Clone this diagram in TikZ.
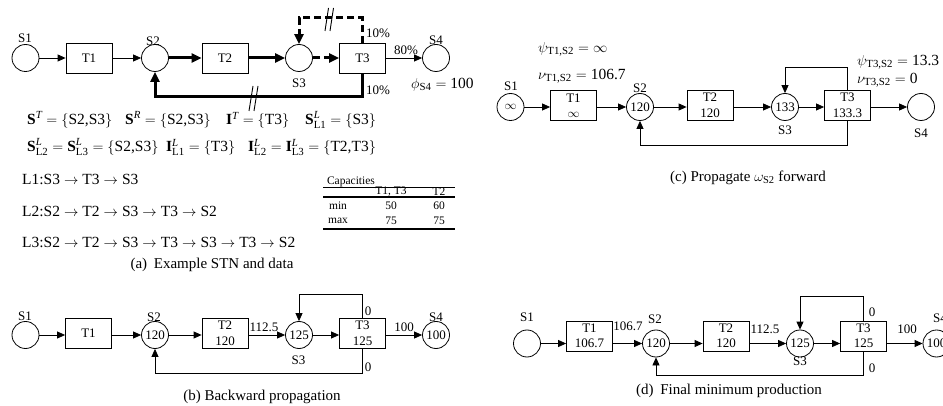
\documentclass[tikz,border=0pt]{standalone}
\usepackage{amsmath}
\usepackage{fontspec}
\setmainfont{Liberation Serif}
\usetikzlibrary{arrows.meta,calc}
\newcommand{\fsz}[1]{\fontsize{#1}{#1}\selectfont}
\newcommand{\bS}{\textbf{S}}
\newcommand{\bI}{\textbf{I}}
\newcommand{\itx}[1]{\text{\itshape #1}}
\newcommand{\rar}{$\;\rightarrow\;$}
\begin{document}
\begin{tikzpicture}[x=1pt,y=-1pt,
  st/.style={circle,draw,line width=0.8pt,minimum size=27pt,inner sep=0pt,font=\fsz{13}},
  tk/.style={rectangle,draw,line width=0.8pt,minimum width=46pt,minimum height=30pt,inner sep=0pt,align=center,font=\fontsize{13}{15.5}\selectfont},
  lb/.style={inner sep=0pt,font=\fsz{13}},
  mth/.style={inner sep=0pt,anchor=base west,font=\fsz{15.5}},
  tb/.style={inner sep=0pt,font=\fsz{11.5}},
  capt/.style={inner sep=0pt,font=\fsz{15}},
  arr/.style={line width=0.8pt,-{Triangle[length=8pt,width=7pt]}},
  tarr/.style={line width=3pt,-{Triangle[length=10pt,width=9pt]}},
  dline/.style={dash pattern=on 7pt off 4pt},
  slashline/.style={line width=0.9pt},
  tabrule/.style={line width=1.1pt}]
\useasboundingbox (0,0) rectangle (943,406);

% ================= (a) =================
\node[st] (aS1) at (25.5,58) {};
\node[lb] (aS1l) at (25,38.5) {S1};
\node[tk] (aT1) at (89,58) {T1};
\node[st] (aS2) at (155,58) {};
\node[lb] (aS2l) at (153,41) {S2};
\node[tk] (aT2) at (225,58) {T2};
\node[st] (aS3) at (299,58) {};
\node[lb] (aS3l) at (299,83) {S3};
\node[tk] (aT3) at (362.5,58) {T3};
\node[st] (aS4) at (436,58) {};
\node[lb] (aS4l) at (436,40) {S4};
\coordinate (aTop) at (0,18);
\coordinate (aBot) at (0,97);

\draw[arr] (aS1) -- (aT1);
\draw[arr] (aT1) -- (aS2);
\draw[tarr] (aS2) -- (aT2);
\draw[tarr] (aT2) -- (aS3);
\draw[tarr,dline] (aS3) -- (aT3);
\draw[arr] (aT3) -- (aS4);
\draw[tarr,dline] (aT3.north) -- (aT3.north |- aTop) -| (aS3.north);
\draw[tarr] (aT3.south) -- (aT3.south |- aBot) -| (aS2.south);
\draw[slashline] (325,31) -- (328.5,8);
\draw[slashline] (330,31) -- (333.5,8);
\draw[slashline] (249,111) -- (253,86);
\draw[slashline] (254,111) -- (258,86);

\node[lb] (a80) at (406,50) {80\%};
\node[lb] (a10t) at (378,33) {10\%};
\node[lb] (a10b) at (378,90) {10\%};
\node[mth,anchor=west] (aphi) at (411,85) {$\phi_{\text{S4}} = \text{100}$};

\node[mth] (m1) at (27,125) {$\bS^{\itx{T}} = \{\text{S2,S3}\}$};
\node[mth] (m2) at (125,125) {$\bS^{\itx{R}} = \{\text{S2,S3}\}$};
\node[mth] (m3) at (226,125) {$\bI^{\itx{T}} = \{\text{T3}\}$};
\node[mth] (m4) at (305,125) {$\bS^{\itx{L}}_{\text{L1}} = \{\text{S3}\}$};
\node[mth] (m5) at (27,152) {$\bS^{\itx{L}}_{\text{L2}} = \bS^{\itx{L}}_{\text{L3}} = \{\text{S2,S3}\}$};
\node[mth] (m6) at (166,152) {$\bI^{\itx{L}}_{\text{L1}} = \{\text{T3}\}$};
\node[mth] (m7) at (248,152) {$\bI^{\itx{L}}_{\text{L2}} = \bI^{\itx{L}}_{\text{L3}} = \{\text{T2,T3}\}$};
\node[mth] (l1) at (22,185) {L1:S3\rar T3\rar S3};
\node[mth] (l2) at (22,217) {L2:S2\rar T2\rar S3\rar T3\rar S2};
\node[mth] (l3) at (22,248) {L3:S2\rar T2\rar S3\rar T3\rar S3\rar T3\rar S2};

% table
\node[tb] (tcap) at (351,182) {Capacities};
\draw[tabrule] (323,187.5) -- (455,187.5);
\node[tb] (th1) at (391,192) {T1, T3};
\node[tb] (th2) at (439,192) {T2};
\draw[tabrule] (323,197) -- (455,197);
\node[tb] (tmin) at (338,206) {min};
\node[tb] (t50) at (391,206) {50};
\node[tb] (t60) at (439,206) {60};
\node[tb] (tmax) at (338,221) {max};
\node[tb] (t75a) at (391,221) {75};
\node[tb] (t75b) at (439,221) {75};
\draw[tabrule] (323,229) -- (455,229);

\node[capt] (capa) at (212,265) {(a)\hspace{0.45em}Example STN and data};

% ================= (b) =================
\node[st] (bS1) at (25.5,335) {};
\node[lb] (bS1l) at (25,316) {S1};
\node[tk] (bT1) at (88.5,333.5) {T1};
\node[st] (bS2) at (155,335) {120};
\node[lb] (bS2l) at (154,317) {S2};
\node[tk] (bT2) at (225,333.5) {T2\\120};
\node[st] (bS3) at (299,335) {125};
\node[lb] (bS3l) at (298.5,360) {S3};
\node[tk] (bT3) at (362.5,333.5) {T3\\125};
\node[st] (bS4) at (436,335) {100};
\node[lb] (bS4l) at (436,317) {S4};
\coordinate (bTop) at (0,294);
\coordinate (bBot) at (0,373);
\draw[arr] (bS1) -- (bT1.west |- bS1);
\draw[arr] (bT1.east |- bS2) -- (bS2);
\draw[arr] (bS2) -- (bT2.west |- bS2);
\draw[arr] (bT2.east |- bS3) -- (bS3);
\draw[arr] (bS3) -- (bT3.west |- bS3);
\draw[arr] (bT3.east |- bS4) -- (bS4);
\draw[arr] (bT3.north) -- (bT3.north |- bTop) -| (bS3.north);
\draw[arr] (bT3.south) -- (bT3.south |- bBot) -| (bS2.south);
\node[lb] (b112) at (264,327) {112.5};
\node[lb] (b100) at (404,327) {100};
\node[lb] (b0t) at (368,311) {0};
\node[lb] (b0b) at (368,367) {0};
\node[capt] (capb) at (262,397) {(b) Backward propagation};

% ================= (c) =================
\node[st] (cS1) at (510.5,107) {$\infty$};
\node[lb] (cS1l) at (511,86.5) {S1};
\node[tk] (cT1) at (573.5,105.5) {T1\\$\infty$};
\node[st] (cS2) at (640,107) {120};
\node[lb] (cS2l) at (640,88) {S2};
\node[tk] (cT2) at (710,105.5) {T2\\120};
\node[st] (cS3) at (785,107) {133};
\node[lb] (cS3l) at (785,130) {S3};
\node[tk] (cT3) at (847.5,105.5) {T3\\133.3};
\node[st] (cS4) at (921,107) {};
\node[lb] (cS4l) at (921,133) {S4};
\coordinate (cTop) at (0,67);
\coordinate (cBot) at (0,145);
\draw[arr] (cS1) -- (cT1.west |- cS1);
\draw[arr] (cT1.east |- cS2) -- (cS2);
\draw[arr] (cS2) -- (cT2.west |- cS2);
\draw[arr] (cT2.east |- cS3) -- (cS3);
\draw[arr] (cS3) -- (cT3.west |- cS3);
\draw[arr] (cT3.east |- cS4) -- (cS4);
\draw[arr] (cT3.north) -- (cT3.north |- cTop) -| (cS3.north);
\draw[arr] (cT3.south) -- (cT3.south |- cBot) -| (cS2.south);
\node[mth,anchor=west] (cpsi1) at (538,49) {$\psi_{\text{T1,S2}} = \infty$};
\node[mth,anchor=west] (cnu1) at (538,76) {$\nu_{\text{T1,S2}} = \text{106.7}$};
\node[mth,anchor=west] (cpsi3) at (857,62) {$\psi_{\text{T3,S2}} = \text{13.3}$};
\node[mth,anchor=west] (cnu3) at (857,80) {$\nu_{\text{T3,S2}} = \text{0}$};
\node[capt] (capc) at (748,178) {(c) Propagate $\omega_{\text{S2}}$ forward};

% ================= (d) =================
\node[st] (dS1) at (527,343.5) {};
\node[lb] (dS1l) at (527,317) {S1};
\node[tk] (dT1) at (589.5,336) {T1\\106.7};
\node[st] (dS2) at (656,343.5) {120};
\node[lb] (dS2l) at (655,319) {S2};
\node[tk] (dT2) at (726,336) {T2\\120};
\node[st] (dS3) at (800,343.5) {125};
\node[lb] (dS3l) at (800,361) {S3};
\node[tk] (dT3) at (863.5,336) {T3\\125};
\node[st] (dS4) at (936.5,343.5) {100};
\node[lb] (dS4l) at (940,318) {S4};
\coordinate (dTop) at (0,296);
\coordinate (dBot) at (0,375);
\draw[arr] (dS1) -- (dT1.west |- dS1);
\draw[arr] (dT1.east |- dS2) -- (dS2);
\draw[arr] (dS2) -- (dT2.west |- dS2);
\draw[arr] (dT2.east |- dS3) -- (dS3);
\draw[arr] (dS3) -- (dT3.west |- dS3);
\draw[arr] (dT3.east |- dS4) -- (dS4);
\draw[arr] (dT3.north) -- (dT3.north |- dTop) -| (dS3.north);
\draw[arr] (dT3.south) -- (dT3.south |- dBot) -| (dS2.south);
\node[lb] (d106) at (628,326) {106.7};
\node[lb] (d112) at (765,329) {112.5};
\node[lb] (d100) at (907,329) {100};
\node[lb] (d0t) at (872,312) {0};
\node[lb] (d0b) at (872,368) {0};
\node[capt] (capd) at (729,391) {(d)\hspace{0.45em}Final minimum production};
\end{tikzpicture}
\end{document}
